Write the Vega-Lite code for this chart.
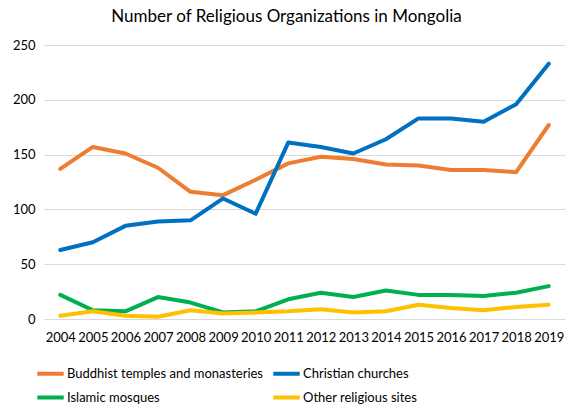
{
  "$schema": "https://vega.github.io/schema/vega-lite/v6.json",
  "description": "Number of religious organizations in Mongolia, 2004-2019",
  "width": 521,
  "height": 274,
  "autosize": {"type": "none"},
  "padding": {"left": 44, "top": 45, "right": 7, "bottom": 91},
  "background": "white",
  "config": {
    "font": "Lato",
    "view": {"stroke": null}
  },
  "title": {
    "text": "Number of Religious Organizations in Mongolia",
    "anchor": "middle",
    "dx": -18,
    "offset": 13,
    "fontSize": 17,
    "fontWeight": "normal",
    "color": "#000000"
  },
  "data": {
    "values": [
      {"year": "2004", "type": "Buddhist temples and monasteries", "count": 137},
      {"year": "2005", "type": "Buddhist temples and monasteries", "count": 157},
      {"year": "2006", "type": "Buddhist temples and monasteries", "count": 151},
      {"year": "2007", "type": "Buddhist temples and monasteries", "count": 138},
      {"year": "2008", "type": "Buddhist temples and monasteries", "count": 116},
      {"year": "2009", "type": "Buddhist temples and monasteries", "count": 113},
      {"year": "2010", "type": "Buddhist temples and monasteries", "count": 127},
      {"year": "2011", "type": "Buddhist temples and monasteries", "count": 142},
      {"year": "2012", "type": "Buddhist temples and monasteries", "count": 148},
      {"year": "2013", "type": "Buddhist temples and monasteries", "count": 146},
      {"year": "2014", "type": "Buddhist temples and monasteries", "count": 141},
      {"year": "2015", "type": "Buddhist temples and monasteries", "count": 140},
      {"year": "2016", "type": "Buddhist temples and monasteries", "count": 136},
      {"year": "2017", "type": "Buddhist temples and monasteries", "count": 136},
      {"year": "2018", "type": "Buddhist temples and monasteries", "count": 134},
      {"year": "2019", "type": "Buddhist temples and monasteries", "count": 177},
      {"year": "2004", "type": "Christian churches", "count": 63},
      {"year": "2005", "type": "Christian churches", "count": 70},
      {"year": "2006", "type": "Christian churches", "count": 85},
      {"year": "2007", "type": "Christian churches", "count": 89},
      {"year": "2008", "type": "Christian churches", "count": 90},
      {"year": "2009", "type": "Christian churches", "count": 110},
      {"year": "2010", "type": "Christian churches", "count": 96},
      {"year": "2011", "type": "Christian churches", "count": 161},
      {"year": "2012", "type": "Christian churches", "count": 157},
      {"year": "2013", "type": "Christian churches", "count": 151},
      {"year": "2014", "type": "Christian churches", "count": 164},
      {"year": "2015", "type": "Christian churches", "count": 183},
      {"year": "2016", "type": "Christian churches", "count": 183},
      {"year": "2017", "type": "Christian churches", "count": 180},
      {"year": "2018", "type": "Christian churches", "count": 196},
      {"year": "2019", "type": "Christian churches", "count": 233},
      {"year": "2004", "type": "Islamic mosques", "count": 22},
      {"year": "2005", "type": "Islamic mosques", "count": 8},
      {"year": "2006", "type": "Islamic mosques", "count": 7},
      {"year": "2007", "type": "Islamic mosques", "count": 20},
      {"year": "2008", "type": "Islamic mosques", "count": 15},
      {"year": "2009", "type": "Islamic mosques", "count": 6},
      {"year": "2010", "type": "Islamic mosques", "count": 7},
      {"year": "2011", "type": "Islamic mosques", "count": 18},
      {"year": "2012", "type": "Islamic mosques", "count": 24},
      {"year": "2013", "type": "Islamic mosques", "count": 20},
      {"year": "2014", "type": "Islamic mosques", "count": 26},
      {"year": "2015", "type": "Islamic mosques", "count": 22},
      {"year": "2016", "type": "Islamic mosques", "count": 22},
      {"year": "2017", "type": "Islamic mosques", "count": 21},
      {"year": "2018", "type": "Islamic mosques", "count": 24},
      {"year": "2019", "type": "Islamic mosques", "count": 30},
      {"year": "2004", "type": "Other religious sites", "count": 3},
      {"year": "2005", "type": "Other religious sites", "count": 7},
      {"year": "2006", "type": "Other religious sites", "count": 3},
      {"year": "2007", "type": "Other religious sites", "count": 2},
      {"year": "2008", "type": "Other religious sites", "count": 8},
      {"year": "2009", "type": "Other religious sites", "count": 5},
      {"year": "2010", "type": "Other religious sites", "count": 6},
      {"year": "2011", "type": "Other religious sites", "count": 7},
      {"year": "2012", "type": "Other religious sites", "count": 9},
      {"year": "2013", "type": "Other religious sites", "count": 6},
      {"year": "2014", "type": "Other religious sites", "count": 7},
      {"year": "2015", "type": "Other religious sites", "count": 13},
      {"year": "2016", "type": "Other religious sites", "count": 10},
      {"year": "2017", "type": "Other religious sites", "count": 8},
      {"year": "2018", "type": "Other religious sites", "count": 11},
      {"year": "2019", "type": "Other religious sites", "count": 13}
    ]
  },
  "mark": {"type": "line", "strokeWidth": 4, "strokeCap": "round", "strokeJoin": "round"},
  "encoding": {
    "x": {
      "field": "year",
      "type": "ordinal",
      "title": null,
      "scale": {"type": "point", "padding": 0.5},
      "axis": {
        "labelAngle": 0,
        "labelOverlap": false,
        "labelFontSize": 13,
        "labelColor": "#000000",
        "labelPadding": 12,
        "ticks": false,
        "domain": false,
        "grid": false
      }
    },
    "y": {
      "field": "count",
      "type": "quantitative",
      "title": null,
      "scale": {"domain": [0, 250]},
      "axis": {
        "values": [0, 50, 100, 150, 200, 250],
        "labelFontSize": 13,
        "labelColor": "#000000",
        "labelPadding": 9,
        "ticks": false,
        "domain": false,
        "gridColor": "#d9d9d9",
        "gridWidth": 1
      }
    },
    "color": {
      "field": "type",
      "type": "nominal",
      "title": null,
      "scale": {
        "domain": ["Buddhist temples and monasteries", "Christian churches", "Islamic mosques", "Other religious sites"],
        "range": ["#ED7D31", "#0070C0", "#00B050", "#FFC000"]
      },
      "legend": {
        "orient": "none",
        "legendX": -9,
        "legendY": 313,
        "direction": "horizontal",
        "columns": 2,
        "columnPadding": 2,
        "rowPadding": -1,
        "symbolType": "stroke",
        "symbolSize": 700,
        "symbolStrokeWidth": 4,
        "labelOffset": 1,
        "labelFontSize": 13,
        "labelColor": "#000000",
        "labelLimit": 400
      }
    }
  }
}
